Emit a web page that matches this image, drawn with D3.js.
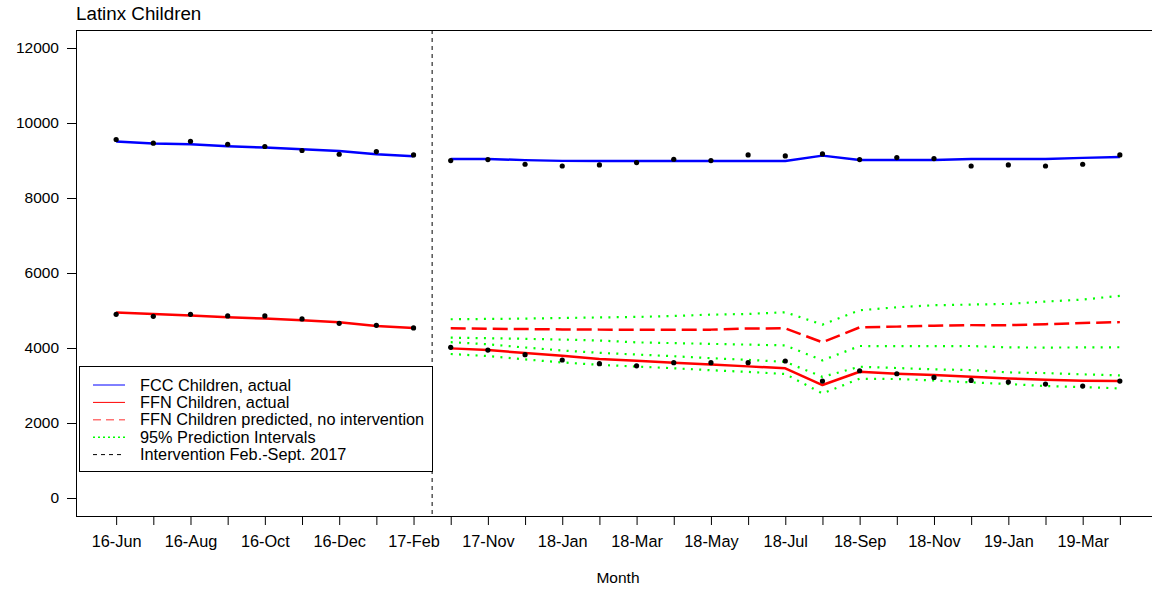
<!DOCTYPE html>
<html>
<head>
<meta charset="utf-8">
<script src="https://cdn.jsdelivr.net/npm/d3@7"></script>
<style>
  html, body { margin: 0; padding: 0; background: #fff; }
  svg { display: block; font-family: "Liberation Sans", Arial, sans-serif; }
</style>
</head>
<body>
<svg id="chart" width="1152" height="589"></svg>
<script>
// Monthly observations: nine months before the intervention, nineteen after it
const months = ["16-Jun","16-Jul","16-Aug","16-Sep","16-Oct","16-Nov","16-Dec","17-Jan","17-Feb",
  "17-Oct","17-Nov","17-Dec","18-Jan","18-Feb","18-Mar","18-Apr","18-May","18-Jun","18-Jul",
  "18-Aug","18-Sep","18-Oct","18-Nov","18-Dec","19-Jan","19-Feb","19-Mar","19-Apr"];
const labeledMonths = ["16-Jun","16-Aug","16-Oct","16-Dec","17-Feb","17-Nov","18-Jan","18-Mar",
  "18-May","18-Jul","18-Sep","18-Nov","19-Jan","19-Mar"];
const yTicks = [0, 2000, 4000, 6000, 8000, 10000, 12000];
const preCount = 9;   // months before the intervention

// FCC children: observed counts and fitted series
const fccActual = [9560, 9461, 9514, 9434, 9373, 9266, 9167, 9239, 9148,
  8999, 9025, 8900, 8854, 8881, 8945, 9033, 8999, 9148, 9122, 9175, 9025, 9079, 9052,
  8854, 8881, 8854, 8900, 9148];
const fccFitted = [9505, 9452, 9434, 9381, 9345, 9300, 9255, 9167, 9114,
  9040, 9040, 9010, 8990, 8990, 8990, 8990, 8990, 8990, 8988, 9130, 9015, 9015, 9015,
  9040, 9040, 9040, 9070, 9095];

// FFN children: observed counts and fitted series
const ffnActual = [4899, 4845, 4899, 4855, 4855, 4775, 4659, 4605, 4535,
  4017, 3946, 3822, 3680, 3581, 3524, 3608, 3608, 3608, 3653, 3119, 3394, 3314, 3216,
  3136, 3092, 3039, 2985, 3119];
const ffnFitted = [4944, 4908, 4864, 4819, 4784, 4739, 4686, 4588, 4535,
  3990, 3946, 3866, 3795, 3706, 3661, 3608, 3563, 3510, 3457, 3012, 3367, 3314, 3279,
  3234, 3189, 3154, 3127, 3119];

// Post-intervention series (17-Oct onward)
const ffnPredicted = [4525, 4515, 4505, 4495, 4490, 4490, 4490, 4490, 4520, 4525,
  4151, 4550, 4570, 4595, 4610, 4610, 4635, 4665, 4690];
const predUpper = [4766, 4775, 4784, 4801, 4815, 4829, 4855, 4890, 4908, 4953,
  4624, 5007, 5086, 5140, 5158, 5176, 5238, 5292, 5390];
const predLower = [4275, 4260, 4245, 4225, 4200, 4150, 4130, 4110, 4090, 4070,
  3670, 4053, 4050, 4050, 4053, 4015, 4012, 4015, 4020];
const fitUpper = [4155, 4100, 4013, 3933, 3871, 3826, 3781, 3728, 3684, 3631,
  3230, 3501, 3466, 3430, 3412, 3349, 3332, 3296, 3270];
const fitLower = [3840, 3785, 3695, 3615, 3551, 3505, 3460, 3407, 3363, 3306,
  2788, 3180, 3172, 3136, 3083, 3039, 2985, 2958, 2922];

const legendItems = [
  { label: "FCC Children, actual", color: "#0000ff", dash: null, width: 1 },
  { label: "FFN Children, actual", color: "#ff0000", dash: null, width: 1 },
  { label: "FFN Children predicted, no intervention", color: "#ff0000", dash: "8,5", width: 1.5, opacity: 0.55 },
  { label: "95% Prediction Intervals", color: "#00ff00", dash: "2,3", width: 1.5 },
  { label: "Intervention Feb.-Sept. 2017", color: "#000000", dash: "4,4", width: 1 }
];

const svg = d3.select("#chart");
const plot = { left: 76, right: 1160, top: 30, bottom: 516 };

const x = d3.scaleLinear().domain([-1.08, months.length - 1 + 1.08]).range([plot.left, plot.right]);
const y = d3.scaleLinear().domain([-480, 12480]).range([plot.bottom, plot.top]);

// Axes
const yAxis = d3.axisLeft(y).tickValues(yTicks).tickSize(9).tickPadding(8).tickFormat(d3.format("d"));
const gy = svg.append("g").attr("transform", `translate(${plot.left},0)`).call(yAxis);
gy.select(".domain").remove();
gy.selectAll("text").attr("font-size", 15.5).attr("fill", "#000");
gy.selectAll("line").attr("stroke", "#000");

const xAxis = d3.axisBottom(x).tickValues(d3.range(months.length)).tickSize(9).tickPadding(10)
  .tickFormat(i => labeledMonths.includes(months[i]) ? months[i] : "");
const gx = svg.append("g").attr("transform", `translate(0,${plot.bottom})`).call(xAxis);
gx.select(".domain").remove();
gx.selectAll("text").attr("font-size", 16.3).attr("fill", "#000");
gx.selectAll("line").attr("stroke", "#000");

// Plot frame
svg.append("rect")
  .attr("x", plot.left + 0.5).attr("y", plot.top + 0.5)
  .attr("width", plot.right - plot.left).attr("height", plot.bottom - plot.top)
  .attr("fill", "none").attr("stroke", "#000").attr("stroke-width", 1);

// Title and axis title
svg.append("text").attr("x", 76).attr("y", 20).attr("font-size", 18.8).attr("fill", "#000")
  .text("Latinx Children");
svg.append("text").attr("x", (plot.left + plot.right) / 2).attr("y", 583)
  .attr("text-anchor", "middle").attr("font-size", 15.5).attr("fill", "#000").text("Month");

// Intervention marker
svg.append("line")
  .attr("x1", x(preCount - 0.5)).attr("x2", x(preCount - 0.5))
  .attr("y1", plot.top).attr("y2", plot.bottom)
  .attr("stroke", "#000").attr("stroke-width", 1).attr("stroke-dasharray", "4,4");

const line = d3.line().x(d => x(d.i)).y(d => y(d.v));
const seg = (arr, start, end) => arr.slice(start, end).map((v, k) => ({ i: start + k, v }));
const post = arr => arr.map((v, k) => ({ i: preCount + k, v }));

function drawLine(data, color, width, dash) {
  svg.append("path").datum(data)
    .attr("d", line).attr("fill", "none")
    .attr("stroke", color).attr("stroke-width", width)
    .attr("stroke-dasharray", dash || null)
    .attr("stroke-linejoin", "round");
}

// Prediction intervals
[predUpper, predLower, fitUpper, fitLower].forEach(s => drawLine(post(s), "#00ff00", 2.2, "2,6.3"));

// Predicted FFN without the intervention
drawLine(post(ffnPredicted), "#ff0000", 2.5, "15,6");

// Fitted series, separately before and after the intervention
drawLine(seg(fccFitted, 0, preCount), "#0000ff", 2.5);
drawLine(seg(fccFitted, preCount, months.length), "#0000ff", 2.5);
drawLine(seg(ffnFitted, 0, preCount), "#ff0000", 2.5);
drawLine(seg(ffnFitted, preCount, months.length), "#ff0000", 2.5);

// Observed points
[fccActual, ffnActual].forEach(s => {
  svg.append("g").selectAll("circle").data(s).join("circle")
    .attr("cx", (d, i) => x(i)).attr("cy", d => y(d)).attr("r", 2.6).attr("fill", "#000");
});

// Legend
const lg = svg.append("g");
lg.append("rect").attr("x", 79.5).attr("y", 366.5).attr("width", 353).attr("height", 105)
  .attr("fill", "#fff").attr("stroke", "#000").attr("stroke-width", 1);
legendItems.forEach((d, k) => {
  const cy = 385 + k * 17.4;
  lg.append("line").attr("x1", 93).attr("x2", 125).attr("y1", cy).attr("y2", cy)
    .attr("stroke", d.color).attr("stroke-width", d.width)
    .attr("stroke-opacity", d.opacity || 1)
    .attr("stroke-dasharray", d.dash);
  lg.append("text").attr("x", 140).attr("y", cy + 5.5).attr("font-size", 16.3).attr("fill", "#000")
    .text(d.label);
});
</script>
</body>
</html>
